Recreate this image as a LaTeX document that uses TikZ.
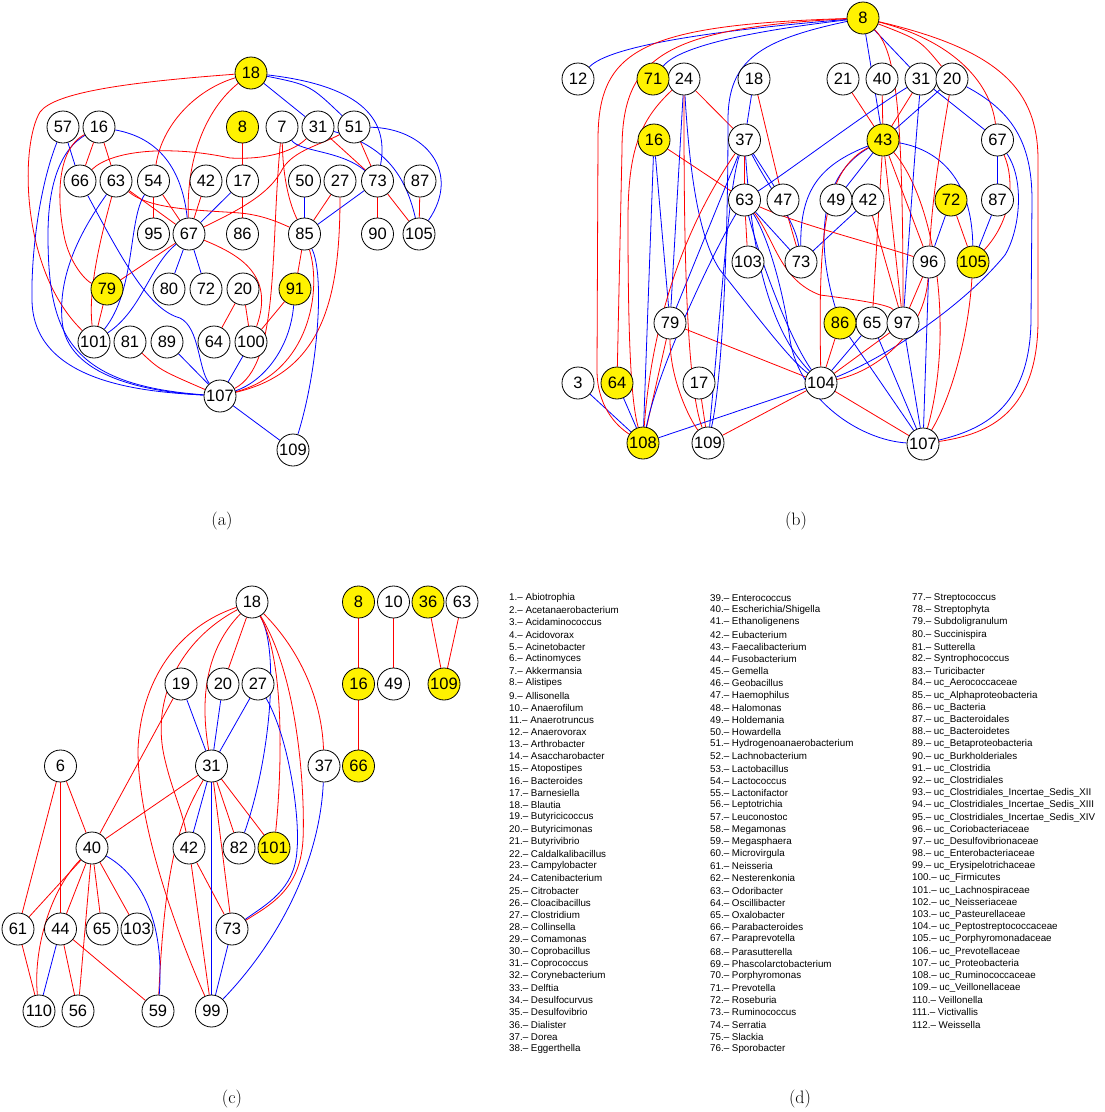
\documentclass[tikz,border=0pt]{standalone}
\usepackage{fontspec}
\usetikzlibrary{backgrounds}
\newfontfamily\arialfont{Liberation Sans}

\begin{document}
\begin{tikzpicture}[x=1pt, y=-1pt,
    vert/.style={circle, draw=black, fill=white, line width=0.8pt, minimum size=32pt, inner sep=0pt, font=\arialfont\fontsize{16.5}{16.5}\selectfont},
    vertY/.style={vert, fill=yellow},
    redge/.style={draw=red, line width=0.8pt},
    bedge/.style={draw=blue, line width=0.8pt},
    legend/.style={anchor=west, inner sep=0pt, font=\arialfont\fontsize{9.8}{10}\selectfont},
    panel/.style={inner sep=0pt, font=\rmfamily\fontsize{18}{18}\selectfont}
]
\useasboundingbox (0,0) rectangle (1104,1112);

% Panel (a) nodes
\foreach \n/\x/\y in {57/63/127, 16/99/127, 7/282/127, 31/318/127, 51/354/127,
    66/80/181, 63/116/181, 54/153.5/181, 42/206/181, 17/242.5/181, 50/304.5/181, 27/340/181,
    73/377.5/181, 87/420/181, 95/153.5/234, 67/189/234, 86/242.5/234, 85/304.5/234, 90/377.5/234,
    105/419/234, 80/169/289, 72/206/289, 20/243/289, 101/94/342, 81/130/342, 89/167/342,
    64/214/342, 100/251/342, 107/220/396, 109/293/450}
  \node[vert] (a\n) at (\x,\y) {\n};
\foreach \n/\x/\y in {18/251/73, 8/242.5/127, 79/107/289, 91/295/289}
  \node[vertY] (a\n) at (\x,\y) {\n};

% Panel (b) nodes
\foreach \n/\x/\y in {12/578/79, 24/684/79, 18/754/79, 21/843/79, 40/882/79, 31/921/79,
    20/952/79, 37/744.5/140, 67/997.5/140, 63/744.5/200, 47/783/200, 49/836/200, 42/868/200,
    87/997.5/200, 103/748/262, 73/801/262, 96/929/262, 79/670/323, 65/872/323, 97/903/323,
    3/578/383, 17/699/383, 104/821/383, 109/708/443, 107/923/444}
  \node[vert] (b\n) at (\x,\y) {\n};
\foreach \n/\x/\y in {8/863/18, 71/653/79, 16/654/140, 43/883/140, 72/951/200,
    105/973/262, 86/840/323, 64/617/383, 108/643/443}
  \node[vertY] (b\n) at (\x,\y) {\n};

% Panel (c) nodes
\foreach \n/\x/\y in {18/252/602, 10/393.5/602, 63/462/602, 19/181/684, 20/223/684,
    27/258/684, 49/393.5/684, 6/60.5/766, 31/211.5/766, 37/324/766, 40/92/848, 42/189/848,
    82/239/848, 61/18/929, 44/60.5/929, 65/102/929, 103/137/929, 73/232/929, 110/39/1011,
    56/78/1011, 59/158/1011, 99/211.5/1011}
  \node[vert] (c\n) at (\x,\y) {\n};
\foreach \n/\x/\y in {8/358.5/602, 36/428/602, 16/358.5/684, 109/444/684, 66/358.5/766, 101/274/848}
  \node[vertY] (c\n) at (\x,\y) {\n};

\begin{scope}[on background layer]
% Panel (a) edges
\foreach \u/\v in {16/66, 16/63, 63/67, 54/95, 54/67, 42/67, 8/17, 17/86, 67/79, 31/73,
    51/73, 27/85, 73/90, 73/105, 87/105, 85/91, 91/100, 20/64, 20/100, 79/101}
  \draw[redge] (a\u) -- (a\v);
\foreach \u/\v in {18/31, 57/66, 17/67, 67/80, 67/72, 50/85, 73/85, 100/107, 89/107, 107/109}
  \draw[bedge] (a\u) -- (a\v);
\draw[bedge] (a18) .. controls (310,85) .. (a51);
\draw[redge] (a18) .. controls (130,82) and (55,92) .. (40,112) .. controls (20,145) and (20,270) .. (a101);
\draw[redge] (a18) .. controls (195,90) and (162,125) .. (a54);
\draw[redge] (a18) .. controls (205,110) and (186,160) .. (a67);
\draw[bedge] (a18) .. controls (355,85) and (390,115) .. (a73);
\draw[bedge] (a57) .. controls (38,190) and (31,260) .. (32,300) .. controls (33,385) and (150,392) .. (a107);
\draw[bedge] (a16) .. controls (60,150) and (48,185) .. (48,235) .. controls (48,335) and (70,385) .. (a107);
\draw[bedge] (a63) .. controls (85,225) and (58,270) .. (62,320) .. controls (66,378) and (150,392) .. (a107);
\draw[bedge] (a66) .. controls (125,265) and (150,310) .. (180,318) .. controls (200,328) and (198,370) .. (a107);
\draw[bedge] (a16) .. controls (160,138) and (182,170) .. (a67);
\draw[redge] (a16) .. controls (55,150) and (57,205) .. (65,240) .. controls (72,268) and (88,282) .. (a79);
\draw[redge] (a66) .. controls (112,150) and (170,145) .. (230,158) .. controls (270,160) and (295,150) .. (a31);
\draw[redge] (a67) .. controls (250,205) and (272,190) .. (283,168) .. controls (295,150) and (320,145) .. (a51);
\draw[redge] (a63) .. controls (150,210) and (200,210) .. (240,213) .. controls (262,215) and (278,222) .. (a85);
\draw[redge] (a63) .. controls (100,240) and (88,290) .. (a101);
\draw[bedge] (a54) .. controls (128,220) and (136,290) .. (a101);
\draw[bedge] (a67) .. controls (150,265) and (142,310) .. (a101);
\draw[redge] (a67) .. controls (240,255) and (275,275) .. (a100);
\draw[redge] (a7) .. controls (283,180) and (290,205) .. (a85);
\draw[redge] (a7) .. controls (270,250) and (280,365) .. (a107);
\draw[bedge] (a7) .. controls (300,152) and (340,150) .. (a73);
\draw[bedge] (a31) .. controls (382,145) and (405,172) .. (a105);
\draw[bedge] (a51) .. controls (425,128) and (462,172) .. (a105);
\draw[redge] (a27) .. controls (340,300) and (322,372) .. (a107);
\draw[redge] (a85) .. controls (322,290) and (310,372) .. (a107);
\draw[bedge] (a85) .. controls (325,275) and (318,370) .. (a109);
\draw[bedge] (a91) .. controls (290,350) and (262,382) .. (a107);
\draw[redge] (a81) .. controls (160,370) .. (a107);

% Panel (b) edges
\foreach \u/\v in {24/37, 16/63, 37/63, 18/47, 47/73, 63/103, 21/43, 40/43, 31/43, 72/105,
    42/97, 96/97, 86/104, 97/104, 104/107, 79/104, 104/109, 17/109, 79/108, 43/65, 43/97, 43/96}
  \draw[redge] (b\u) -- (b\v);
\foreach \u/\v in {18/37, 37/47, 43/49, 42/73, 67/87, 87/105, 72/96, 65/104, 86/107, 65/107,
    97/107, 96/107, 3/108, 64/108, 104/108, 8/43, 8/31, 20/43, 16/79, 16/108, 24/79, 37/79, 63/73, 31/67}
  \draw[bedge] (b\u) -- (b\v);
\draw[bedge] (b8) .. controls (720,30) and (610,45) .. (b12);
\draw[bedge] (b8) .. controls (760,30) and (680,45) .. (b71);
\draw[redge] (b8) .. controls (640,25) and (598,50) .. (598,140) -- (597,370) .. controls (597,405) and (615,425) .. (b108);
\draw[redge] (b8) .. controls (660,28) and (622,60) .. (622,150) -- (b64);
\draw[bedge] (b8) .. controls (760,40) and (728,60) .. (728,120) .. controls (728,250) and (722,380) .. (b109);
\draw[redge] (b8) .. controls (920,40) .. (b20);
\draw[redge] (b8) .. controls (895,50) and (903,100) .. (b97);
\draw[redge] (b8) .. controls (950,40) and (990,80) .. (b67);
\draw[redge] (b8) .. controls (1000,50) and (1038,90) .. (1038,160) -- (1038,320) .. controls (1038,420) and (980,435) .. (b107);
\draw[bedge] (b20) .. controls (1010,110) and (1032,140) .. (1032,200) -- (1031,320) .. controls (1030,410) and (980,430) .. (b107);
\draw[bedge] (b67) .. controls (1025,180) and (1020,230) .. (1005,255) .. controls (960,310) and (880,360) .. (b104);
\draw[redge] (b67) .. controls (1015,180) and (1012,220) .. (b105);
\draw[redge] (b24) .. controls (640,120) and (628,150) .. (628,220) .. controls (628,320) and (630,400) .. (b108);
\draw[bedge] (b24) .. controls (690,180) and (700,240) .. (720,270) .. controls (760,320) and (790,360) .. (b104);
\draw[redge] (b24) .. controls (684,200) and (684,380) .. (b109);
\draw[redge] (b37) .. controls (710,190) and (655,280) .. (b108);
\draw[bedge] (b37) .. controls (728,190) and (722,300) .. (b109);
\draw[bedge] (b37) .. controls (770,190) and (795,220) .. (b73);
\draw[bedge] (b37) .. controls (750,220) and (760,320) .. (b104);
\draw[bedge] (b63) .. controls (720,240) and (660,360) .. (b108);
\draw[bedge] (b63) .. controls (760,260) and (790,340) .. (b104);
\draw[bedge] (b63) .. controls (770,240) and (785,300) .. (790,340) .. controls (800,400) and (860,440) .. (b107);
\draw[redge] (b63) .. controls (800,225) and (880,245) .. (b96);
\draw[redge] (b63) .. controls (775,240) and (780,280) .. (820,295) .. controls (860,300) and (890,305) .. (b97);
\draw[bedge] (b31) .. controls (870,110) and (790,170) .. (b63);
\draw[bedge] (b43) .. controls (820,165) and (800,190) .. (b73);
\draw[bedge] (b43) .. controls (820,175) and (815,240) .. (b86);
\draw[redge] (b43) .. controls (825,170) and (818,230) .. (b104);
\draw[bedge] (b43) .. controls (940,150) and (972,180) .. (b105);
\draw[redge] (b43) .. controls (935,200) and (955,330) .. (b107);
\draw[bedge] (b31) .. controls (915,150) and (908,250) .. (b97);
\draw[redge] (b20) .. controls (940,150) and (932,200) .. (b96);
\draw[redge] (b96) .. controls (925,330) and (880,370) .. (b104);
\draw[redge] (b105) .. controls (968,340) and (950,400) .. (b107);
\draw[redge] (b79) .. controls (670,380) and (690,420) .. (b109);

% Panel (c) edges
\foreach \u/\v in {8/16, 16/66, 10/49, 36/109, 63/109, 18/20, 19/40, 31/40, 31/73, 31/82,
    31/101, 6/61, 6/44, 6/40, 40/61, 40/44, 40/56, 40/65, 40/103, 61/110, 44/56, 44/59, 42/99, 42/73}
  \draw[redge] (c\u) -- (c\v);
\foreach \u/\v in {19/31, 20/31, 27/31, 31/42, 31/99, 44/110, 73/99}
  \draw[bedge] (c\u) -- (c\v);
\draw[redge] (c18) .. controls (180,640) and (150,700) .. (165,760) .. controls (172,790) and (182,810) .. (c42);
\draw[redge] (c18) .. controls (170,630) and (140,690) .. (138,750) .. controls (138,830) and (180,940) .. (c99);
\draw[redge] (c18) .. controls (205,650) and (200,700) .. (c31);
\draw[bedge] (c18) .. controls (280,650) and (270,760) .. (c82);
\draw[redge] (c18) .. controls (285,660) and (282,770) .. (c101);
\draw[redge] (c18) .. controls (300,680) and (305,800) .. (303,840) .. controls (300,890) and (270,905) .. (c73);
\draw[bedge] (c27) .. controls (290,740) and (300,820) .. (297,850) .. controls (295,890) and (265,905) .. (c73);
\draw[redge] (c18) .. controls (300,650) and (322,700) .. (c37);
\draw[bedge] (c37) .. controls (320,860) and (280,940) .. (c99);
\draw[redge] (c31) .. controls (180,820) and (165,860) .. (c59);
\draw[redge] (c40) .. controls (50,890) and (33,950) .. (c110);
\draw[bedge] (c40) .. controls (140,875) and (165,920) .. (c59);
\end{scope}

% Panel (d) legend
\foreach \t [count=\i] in {Abiotrophia, Acetanaerobacterium, Acidaminococcus, Acidovorax,
    Acinetobacter, Actinomyces, Akkermansia, Alistipes, Allisonella, Anaerofilum, Anaerotruncus,
    Anaerovorax, Arthrobacter, Asaccharobacter, Atopostipes, Bacteroides, Barnesiella, Blautia,
    Butyricicoccus, Butyricimonas, Butyrivibrio, Caldalkalibacillus, Campylobacter, Catenibacterium,
    Citrobacter, Cloacibacillus, Clostridium, Collinsella, Comamonas, Coprobacillus, Coprococcus,
    Corynebacterium, Delftia, Desulfocurvus, Desulfovibrio, Dialister, Dorea, Eggerthella}
  \node[legend] (d\i) at (509, {598+12.19*(\i-1)}) {\i.– \t};
\foreach \t [count=\i from 39] in {Enterococcus, {Escherichia/Shigella}, Ethanoligenens,
    Eubacterium, Faecalibacterium, Fusobacterium, Gemella, Geobacillus, Haemophilus, Halomonas,
    Holdemania, Howardella, Hydrogenoanaerobacterium, Lachnobacterium, Lactobacillus, Lactococcus,
    Lactonifactor, Leptotrichia, Leuconostoc, Megamonas, Megasphaera, Microvirgula, Neisseria,
    Nesterenkonia, Odoribacter, Oscillibacter, Oxalobacter, Parabacteroides, Paraprevotella,
    Parasutterella, Phascolarctobacterium, Porphyromonas, Prevotella, Roseburia, Ruminococcus,
    Serratia, Slackia, Sporobacter}
  \node[legend] (d\i) at (710, {598+12.19*(\i-39)}) {\i.– \t};
\foreach \t [count=\i from 77] in {Streptococcus, Streptophyta, Subdoligranulum, Succinispira,
    Sutterella, Syntrophococcus, Turicibacter, uc\_Aerococcaceae, uc\_Alphaproteobacteria,
    uc\_Bacteria, uc\_Bacteroidales, uc\_Bacteroidetes, uc\_Betaproteobacteria, uc\_Burkholderiales,
    uc\_Clostridia, uc\_Clostridiales, uc\_Clostridiales\_Incertae\_Sedis\_XII,
    uc\_Clostridiales\_Incertae\_Sedis\_XIII, uc\_Clostridiales\_Incertae\_Sedis\_XIV,
    uc\_Coriobacteriaceae, uc\_Desulfovibrionaceae, uc\_Enterobacteriaceae, uc\_Erysipelotrichaceae,
    uc\_Firmicutes, uc\_Lachnospiraceae, uc\_Neisseriaceae, uc\_Pasteurellaceae,
    uc\_Peptostreptococcaceae, uc\_Porphyromonadaceae, uc\_Prevotellaceae, uc\_Proteobacteria,
    uc\_Ruminococcaceae, uc\_Veillonellaceae, Veillonella, Victivallis, Weissella}
  \node[legend] (d\i) at (912, {598+12.19*(\i-77)}) {\i.– \t};

% Panel labels
\node[panel] (lab-a) at (222,521) {(a)};
\node[panel] (lab-b) at (796,521) {(b)};
\node[panel] (lab-c) at (232,1099) {(c)};
\node[panel] (lab-d) at (800,1099) {(d)};

\end{tikzpicture}
\end{document}
